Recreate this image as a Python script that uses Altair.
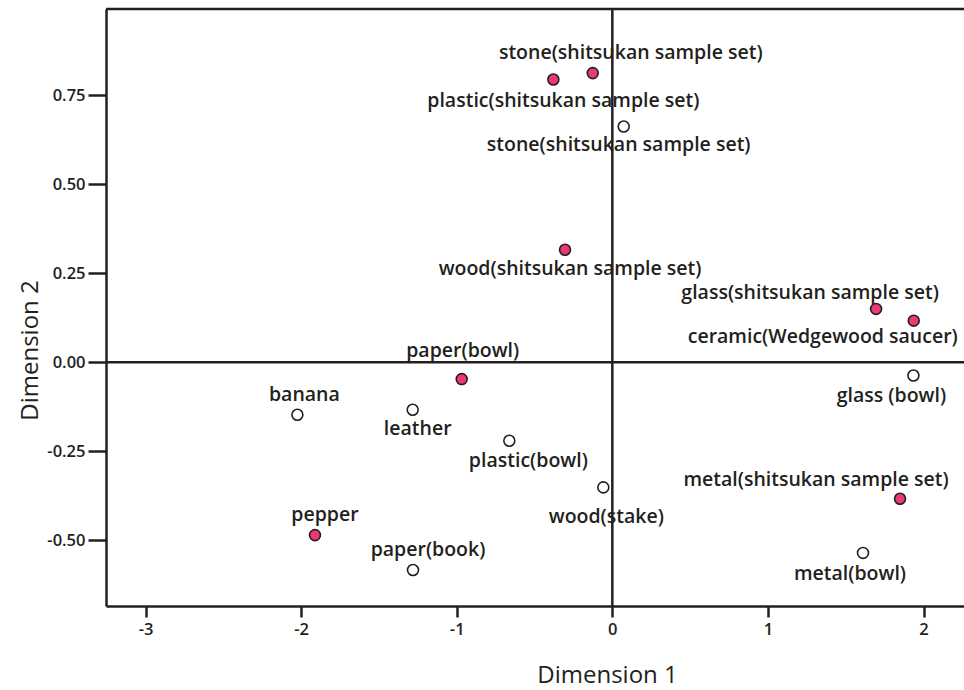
import altair as alt
import pandas as pd

# ---- data ----
names = [
    "stone(shitsukan sample set)", "plastic(shitsukan sample set)", "stone(shitsukan sample set)",
    "wood(shitsukan sample set)", "glass(shitsukan sample set)", "ceramic(Wedgewood saucer)",
    "glass (bowl)", "paper(bowl)", "banana", "leather", "plastic(bowl)", "wood(stake)",
    "metal(shitsukan sample set)", "pepper", "paper(book)", "metal(bowl)",
]
dim1 = [-0.126, -0.379, 0.073, -0.304, 1.695, 1.937, 1.935, -0.968, -2.024, -1.283,
        -0.662, -0.058, 1.849, -1.911, -1.281, 1.611]
dim2 = [0.812, 0.794, 0.662, 0.316, 0.150, 0.117, -0.037, -0.047, -0.147, -0.133,
        -0.220, -0.351, -0.383, -0.485, -0.583, -0.535]
group = ["filled", "filled", "open", "filled", "filled", "filled", "open", "filled", "open",
         "open", "open", "open", "filled", "filled", "open", "open"]

# ---- label placement (pixel offsets from point centre) ----
label_dx = [38, 10, -5, 5, -66, -91, -22, 1, 7, 5, 19, 3, -84, 10, 15, -13]
label_dy = [-20, 21, 18, 19, -16, 16, 20, -28, -20, 19, 20, 30, -19, -20, -20, 21]

# ---- layout ----
W, H = 858, 597
XMIN, XMAX = -3.254, 2.26
YMIN, YMAX = -0.684, 0.992
px_x = W / (XMAX - XMIN)
px_y = H / (YMAX - YMIN)

INK = "#231f20"
PINK = "#ec3a70"
FONT = "Open Sans"

df = pd.DataFrame({
    "name": names, "d1": dim1, "d2": dim2, "group": group,
    "dx": label_dx, "dy": label_dy,
})
df["lx"] = df["d1"] + df["dx"] / px_x
df["ly"] = df["d2"] - df["dy"] / px_y

xs = alt.Scale(domain=[XMIN, XMAX], nice=False, zero=False)
ys = alt.Scale(domain=[YMIN, YMAX], nice=False, zero=False)

xaxis = alt.Axis(
    title="Dimension 1", values=[-3, -2, -1, 0, 1, 2], grid=False,
    labelExpr="replace(format(datum.value, 'd'), '\u2212', '-')",
    domainColor=INK, domainWidth=2.5, tickColor=INK, tickWidth=2.5, tickSize=11,
    labelFont=FONT, labelFontSize=16.5, labelColor=INK, labelPadding=4, labelFontWeight=600,
    titleFont=FONT, titleFontSize=24, titleFontWeight="normal", titleColor=INK,
    titleX=501, titleY=76, titleBaseline="alphabetic", titleAnchor="middle",
)
yaxis = alt.Axis(
    title="Dimension 2", values=[-0.5, -0.25, 0, 0.25, 0.5, 0.75], grid=False,
    labelExpr="replace(format(datum.value, '.2f'), '\u2212', '-')",
    domainColor=INK, domainWidth=2.5, tickColor=INK, tickWidth=2.5, tickSize=18,
    labelFont=FONT, labelFontSize=16.5, labelColor=INK, labelPadding=3, labelFontWeight=600,
    titleFont=FONT, titleFontSize=24, titleFontWeight="normal", titleColor=INK,
    titleAngle=270, titleX=-76, titleY=341, titleBaseline="middle", titleAlign="center",
)

zero_v = alt.Chart(pd.DataFrame({"v": [0]})).mark_rule(color=INK, strokeWidth=2.5).encode(
    x=alt.X("v:Q", scale=xs, axis=xaxis)
)
zero_h = alt.Chart(pd.DataFrame({"v": [0]})).mark_rule(color=INK, strokeWidth=2.5).encode(
    y=alt.Y("v:Q", scale=ys, axis=yaxis)
)
top_line = alt.Chart(pd.DataFrame({"v": [0]})).mark_rule(color=INK, strokeWidth=2.5).encode(
    y=alt.value(0), x=alt.value(0), x2=alt.value(W)
)

points = alt.Chart(df).mark_point(
    shape="circle", filled=True, size=120, stroke=INK, strokeWidth=1.6, opacity=1
).encode(
    x=alt.X("d1:Q", scale=xs),
    y=alt.Y("d2:Q", scale=ys),
    fill=alt.Fill("group:N", scale=alt.Scale(domain=["filled", "open"], range=[PINK, "white"]),
                  legend=None),
)

labels = alt.Chart(df).mark_text(
    font=FONT, fontSize=19.5, fontWeight=600, color=INK, align="center", baseline="middle"
).encode(
    x=alt.X("lx:Q", scale=xs),
    y=alt.Y("ly:Q", scale=ys),
    text="name:N",
)

chart = alt.layer(zero_v, zero_h, top_line, points, labels).properties(
    width=W, height=H,
    autosize=alt.AutoSizeParams(type="none"),
    padding={"left": 106, "top": 9, "right": 0, "bottom": 84},
    background="white",
).configure_view(stroke=None)

chart.save("out.html", embed_options={"renderer": "svg", "actions": False})
